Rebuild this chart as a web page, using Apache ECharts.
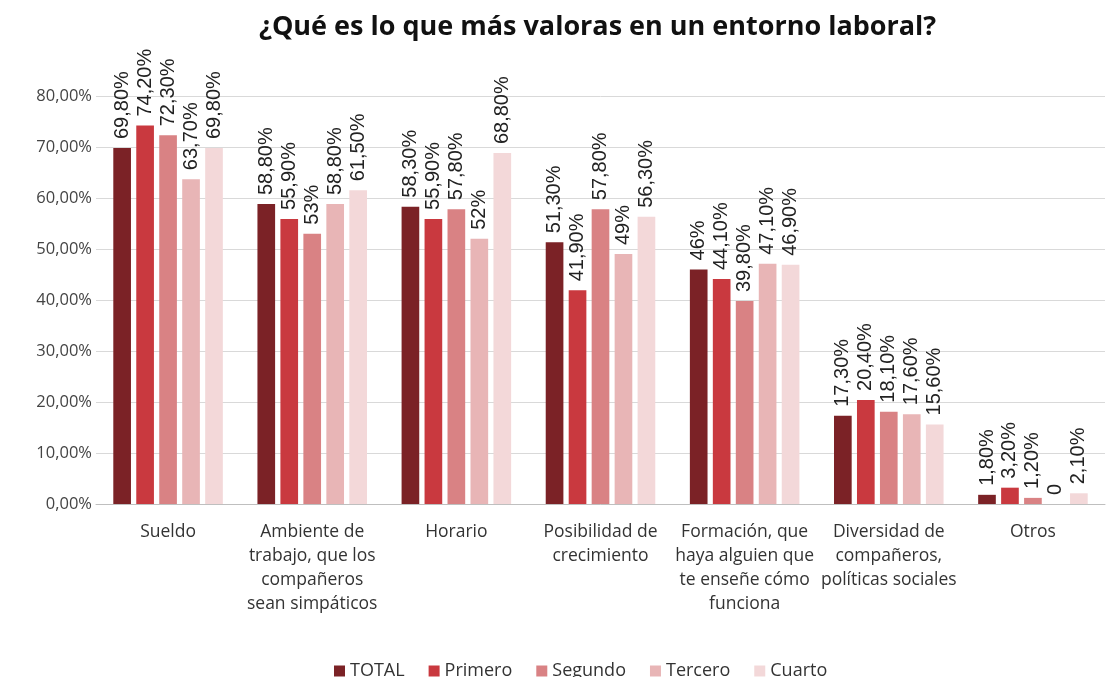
<!DOCTYPE html>
<html>
<head>
<meta charset="utf-8">
<script src="https://cdn.jsdelivr.net/npm/echarts@6/dist/echarts.min.js"></script>
<style>
  html, body { margin: 0; padding: 0; background: #fff; }
  #chart { width: 1118px; height: 677px; }
</style>
</head>
<body>
<div id="chart"></div>
<script>
let categories = [
  "Sueldo",
  "Ambiente de\ntrabajo, que los\ncompañeros\nsean simpáticos",
  "Horario",
  "Posibilidad de\ncrecimiento",
  "Formación, que\nhaya alguien que\nte enseñe cómo\nfunciona",
  "Diversidad de\ncompañeros,\npolíticas sociales",
  "Otros"
];
let seriesNames = ["TOTAL", "Primero", "Segundo", "Tercero", "Cuarto"];
let totalValues = [69.8, 58.8, 58.3, 51.3, 46, 17.3, 1.8];
let primeroValues = [74.2, 55.9, 55.9, 41.9, 44.1, 20.4, 3.2];
let segundoValues = [72.3, 53, 57.8, 57.8, 39.8, 18.1, 1.2];
let terceroValues = [63.7, 58.8, 52, 49, 47.1, 17.6, 0];
let cuartoValues = [69.8, 61.5, 68.8, 56.3, 46.9, 15.6, 2.1];
let yTicks = [0, 10, 20, 30, 40, 50, 60, 70, 80];

let colors = ["#7b2226", "#c9393f", "#d98284", "#e8b5b6", "#f3d8d9"];
let allValues = [totalValues, primeroValues, segundoValues, terceroValues, cuartoValues];

function labelText(v) {
  if (v === 0) return "0";
  if (Number.isInteger(v)) return v + "%";
  return v.toFixed(2).replace(".", ",") + "%";
}

let chart = echarts.init(document.getElementById("chart"));
let font = "'Open Sans', 'Noto Sans', sans-serif";

chart.setOption({
  animation: false,
  color: colors,
  title: {
    text: "¿Qué es lo que más valoras en un entorno laboral?",
    left: 254,
    top: 9,
    textStyle: { fontFamily: font, fontSize: 27, fontWeight: "bold", color: "#111" }
  },
  legend: {
    data: seriesNames,
    top: 657,
    left: 329,
    icon: "rect",
    itemWidth: 11,
    itemHeight: 11,
    itemGap: 24,
    textStyle: { fontFamily: font, fontSize: 18, color: "#333" }
  },
  grid: { left: 96, right: 13, top: 96, bottom: 173, containLabel: false },
  xAxis: {
    type: "category",
    data: categories,
    axisLine: { lineStyle: { color: "#bfbfbf" } },
    axisTick: { show: false },
    axisLabel: {
      interval: 0,
      margin: 16,
      lineHeight: 24,
      fontFamily: font,
      fontSize: 17.5,
      color: "#333"
    }
  },
  yAxis: {
    type: "value",
    min: yTicks[0],
    max: yTicks[yTicks.length - 1],
    interval: 10,
    axisLine: { show: false },
    axisTick: { show: false },
    splitLine: { lineStyle: { color: "#d9d9d9", width: 1 } },
    axisLabel: {
      margin: 4,
      fontFamily: font,
      fontSize: 16.5,
      color: "#444",
      formatter: function (v) { return v.toFixed(2).replace(".", ",") + "%"; }
    }
  },
  series: seriesNames.map(function (name, i) {
    return {
      name: name,
      type: "bar",
      data: allValues[i],
      barGap: "30%",
      barCategoryGap: "24%",
      itemStyle: { color: colors[i] },
      label: {
        show: true,
        position: "top",
        rotate: 90,
        align: "left",
        verticalAlign: "middle",
        distance: 9,
        fontFamily: "'Liberation Sans', Arial, sans-serif",
        fontSize: 20,
        color: "#222",
        formatter: function (p) { return labelText(p.value); }
      }
    };
  })
});
</script>
</body>
</html>
